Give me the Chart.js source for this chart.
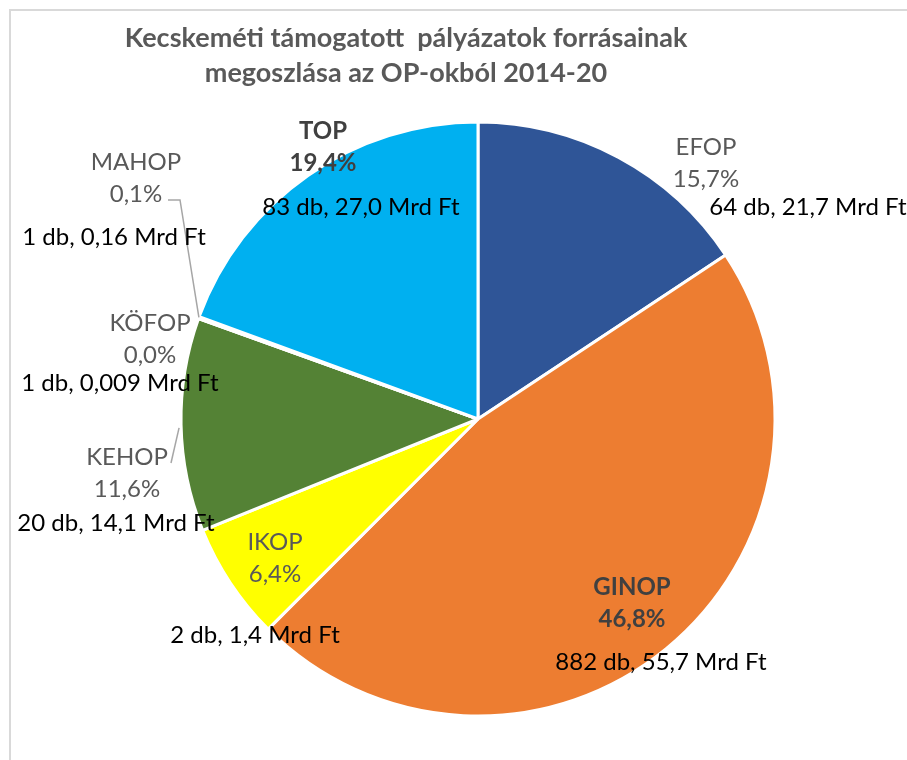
<!DOCTYPE html>
<html>
<head>
<meta charset="utf-8">
<script src="https://cdn.jsdelivr.net/npm/chart.js@4.4.1/dist/chart.umd.min.js"></script>
<style>
  html, body { margin: 0; padding: 0; background: #fff; }
  #wrap { position: relative; width: 907px; height: 760px; }
</style>
</head>
<body>
<div id="wrap"><canvas id="myChart" width="907" height="760"></canvas></div>
<script>
// adatok
const categories = ['EFOP', 'GINOP', 'IKOP', 'KEHOP', 'KÖFOP', 'MAHOP', 'TOP'];
const shares = [15.7, 46.8, 6.4, 11.6, 0.02, 0.1, 19.4];
const shareLabels = ['15,7%', '46,8%', '6,4%', '11,6%', '0,0%', '0,1%', '19,4%'];
const counts = [64, 882, 2, 20, 1, 1, 83];
const amounts = ['21,7', '55,7', '1,4', '14,1', '0,009', '0,16', '27,0'];
const colors = ['#2F5597', '#ED7D31', '#FFFF00', '#548235', '#A5A5A5', '#7F7F7F', '#00B0F0'];

const titleLines = ['Kecskeméti támogatott  pályázatok forrásainak', 'megoszlása az OP-okból 2014-20'];

const FONT = 'Lato, "Open Sans", sans-serif';

// label placement (text only), one entry per category
const labelPos = [
  {x: 706, y: 147, dx: 808, dy: 207, bold: false},
  {x: 632, y: 587, dx: 661, dy: 662, bold: true},
  {x: 275, y: 542, dx: 255, dy: 635, bold: false},
  {x: 127, y: 457, dx: 116, dy: 523, bold: false},
  {x: 150, y: 323, dx: 120, dy: 383, bold: false},
  {x: 136, y: 162, dx: 114, dy: 237, bold: false},
  {x: 323, y: 131, dx: 361, dy: 207, bold: true}
];

const labelPlugin = {
  id: 'labelPlugin',
  afterDraw(chart) {
    const ctx = chart.ctx;
    ctx.save();

    // keret
    ctx.strokeStyle = '#D9D9D9';
    ctx.lineWidth = 2;
    ctx.beginPath();
    ctx.moveTo(10, 760);
    ctx.lineTo(10, 10);
    ctx.lineTo(907, 10);
    ctx.stroke();

    // cim
    ctx.fillStyle = '#595959';
    ctx.font = 'bold 27px ' + FONT;
    ctx.textAlign = 'center';
    ctx.textBaseline = 'middle';
    ctx.fillText(titleLines[0], 406, 38);
    ctx.fillText(titleLines[1], 406, 73);

    const arcs = chart.getDatasetMeta(0).data;

    // vezeto vonalak (MAHOP, KEHOP)
    ctx.strokeStyle = '#A6A6A6';
    ctx.lineWidth = 1.5;
    let a = arcs[5].getProps(['x', 'y', 'startAngle', 'endAngle', 'outerRadius'], true);
    let mid = (a.startAngle + a.endAngle) / 2;
    ctx.beginPath();
    ctx.moveTo(168, 200);
    ctx.lineTo(180, 200);
    ctx.lineTo(a.x + Math.cos(mid) * a.outerRadius, a.y + Math.sin(mid) * a.outerRadius);
    ctx.stroke();

    a = arcs[3].getProps(['x', 'y', 'startAngle', 'endAngle', 'outerRadius'], true);
    mid = (a.startAngle + a.endAngle) / 2;
    ctx.beginPath();
    ctx.moveTo(171, 463);
    ctx.lineTo(a.x + Math.cos(mid) * (a.outerRadius + 2), a.y + Math.sin(mid) * (a.outerRadius + 2) + 3);
    ctx.stroke();

    // feliratok
    for (let i = 0; i < categories.length; i++) {
      const p = labelPos[i];
      if (p.bold) {
        ctx.fillStyle = '#404040';
        ctx.font = 'bold 24px ' + FONT;
      } else {
        ctx.fillStyle = '#595959';
        ctx.font = '24px ' + FONT;
      }
      ctx.fillText(categories[i], p.x, p.y);
      ctx.fillText(shareLabels[i], p.x, p.y + 32);
      ctx.fillStyle = '#000000';
      ctx.font = '24px ' + FONT;
      ctx.fillText(counts[i] + ' db, ' + amounts[i] + ' Mrd Ft', p.dx, p.dy);
    }
    ctx.restore();
  }
};

const ctx = document.getElementById('myChart').getContext('2d');
const myChart = new Chart(ctx, {
  type: 'pie',
  data: {
    labels: categories,
    datasets: [{
      data: shares,
      backgroundColor: colors,
      borderColor: '#FFFFFF',
      borderWidth: 3,
      hoverOffset: 0,
      offset: 0
    }]
  },
  options: {
    responsive: false,
    animation: false,
    radius: 297,
    layout: { padding: { left: 49, top: 78 } },
    plugins: {
      legend: { display: false },
      tooltip: { enabled: false },
      title: { display: false }
    }
  },
  plugins: [labelPlugin]
});
</script>
</body>
</html>
